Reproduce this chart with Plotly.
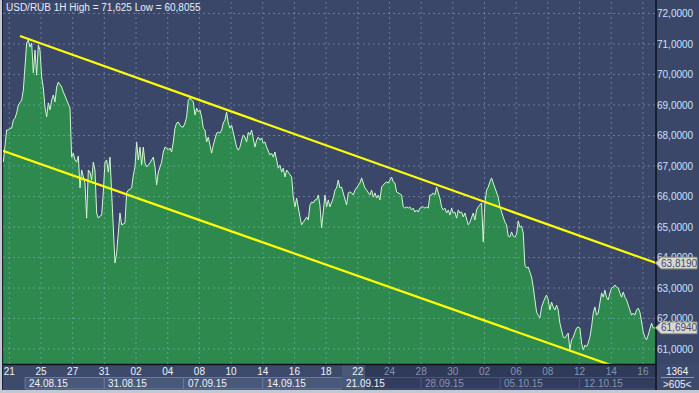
import plotly.graph_objects as go

# ---------------- data ----------------
TITLE = "USD/RUB 1H High = 71,625 Low = 60,8055"

# trading-day index of each day label (0 = 21.08.15)
DAY_POS = [0, 2, 4, 6, 8, 10, 12, 14, 16, 18, 20, 22, 24, 26, 28, 30, 32, 34, 36, 38, 40]
DAY_LABELS = ["21", "25", "27", "31", "02", "04", "08", "10", "14", "16", "18",
              "22", "24", "28", "30", "02", "06", "08", "12", "14", "16"]
WEEK_POS = [1, 6, 11, 16, 21, 26, 31, 36]
WEEK_LABELS = ["24.08.15", "31.08.15", "07.09.15", "14.09.15",
               "21.09.15", "28.09.15", "05.10.15", "12.10.15"]
Y_TICKS = [61, 62, 63, 64, 65, 66, 67, 68, 69, 70, 71, 72]
Y_LABELS = ["61,0000", "62,0000", "63,0000", "64,0000", "65,0000", "66,0000",
            "67,0000", "68,0000", "69,0000", "70,0000", "71,0000", "72,0000"]

# sampling of the price series (in trading days)
T0 = -0.377
DT = 0.1052

PRICE_A = [67.13, 67.75, 68.18, 68.18, 68.24, 68.24, 68.51, 68.57, 68.74, 69.00,
           69.07, 69.16, 69.49, 70.38, 71.03, 71.13, 70.90, 71.03, 70.05, 70.80,
           69.98, 70.97, 70.80, 69.92, 69.56, 68.93, 68.61, 69.07, 68.84, 69.16,
           69.33, 69.10, 69.59, 69.75, 69.66, 69.59, 69.43, 69.30, 69.16, 69.03,
           68.90, 67.29, 67.42, 67.20, 67.13, 67.33, 66.28, 66.87, 66.67, 66.44,
           65.29, 66.87, 66.80, 66.54, 67.13, 66.87, 65.46, 65.29, 65.36, 65.39,
           66.15, 67.13, 67.20, 66.80, 67.29, 65.98, 64.97, 63.82, 64.15, 64.90,
           65.46, 65.07, 65.10, 65.13, 66.12, 66.21, 66.24, 66.28, 66.70, 66.97,
           67.79, 67.20, 67.62, 67.03, 67.62, 67.10, 66.97, 67.03, 67.10, 67.20,
           67.29, 66.97, 66.38, 66.80, 66.97, 67.13, 67.46, 67.62, 67.59, 67.52,
           67.59, 67.46, 67.79, 68.24, 68.41, 68.44, 68.34, 68.28, 68.28, 68.41,
           68.61, 69.16, 69.23, 69.16, 69.10, 68.67, 68.90, 68.77, 68.84]
PRICE_B = [68.61, 68.24, 68.18, 67.79, 67.95, 67.69, 67.42, 67.69, 67.92, 68.08,
           68.11, 68.08, 68.18, 68.41, 68.51, 68.77, 68.41, 68.24, 68.34, 68.08,
           67.85, 67.62, 67.52, 67.62, 67.85, 68.02, 67.95, 67.79, 68.11, 68.02,
           68.18, 67.85, 67.62, 67.85, 67.95, 67.85, 67.92, 67.75, 67.79, 67.62,
           67.46, 67.36, 67.42, 67.29, 67.46, 67.20, 66.93, 67.03, 66.80, 66.93,
           66.64, 66.87, 66.80, 66.70, 66.64, 65.98, 65.66, 65.95, 65.56, 65.33,
           65.07, 65.16, 65.23, 65.33, 65.23, 65.72, 65.82, 65.79, 65.89, 65.89,
           66.05, 65.72, 64.97, 65.56, 66.05, 65.66, 65.89, 65.66, 65.82, 65.95,
           66.21, 66.28, 66.54, 66.28, 66.31, 66.12, 65.98, 65.72, 66.12, 66.15,
           66.12, 66.05, 66.21, 66.28, 66.38, 66.44, 66.61, 66.44, 66.28, 66.21,
           66.12, 66.05, 66.21, 65.98, 66.12, 65.95, 66.05, 65.89]
PRICE_C = [66.31, 66.38, 66.44, 66.48, 66.44, 66.54, 66.64, 66.48, 66.44, 66.15,
           66.12, 66.08, 66.05, 65.66, 65.62, 65.66, 65.62, 65.66, 65.56, 65.62,
           65.49, 65.56, 65.49, 65.62, 65.66, 65.66, 65.62, 65.66, 65.62, 66.05,
           66.05, 66.12, 66.05, 66.31, 66.12, 65.95, 65.66, 65.56, 65.62, 65.46,
           65.56, 65.39, 65.62, 65.46, 65.49, 65.29, 65.56, 65.46, 65.49, 65.33,
           65.46, 65.29, 65.07, 65.16, 65.33, 65.46, 65.23, 65.56, 65.66, 65.72,
           65.79, 64.51, 65.79, 66.21, 66.31, 66.48, 66.61, 66.44, 66.28, 66.12,
           65.98, 65.66]
PRICE_D = [65.49, 65.36, 65.16, 65.07, 64.70, 64.67, 64.84, 64.70, 64.67, 64.77,
           65.20, 65.00, 65.03, 64.80, 63.75, 63.66, 63.69, 63.52, 63.36, 63.03,
           62.61, 62.21, 62.11, 62.02, 62.38, 62.54, 62.67, 62.77, 62.61, 62.28,
           62.54, 62.38, 62.28, 62.44, 62.28, 61.85, 61.56, 61.39, 61.36, 61.46,
           61.52, 60.97, 61.30, 61.39, 61.56, 61.69, 61.72, 61.69, 61.20, 60.97,
           61.13, 61.07, 61.20, 61.39, 61.72, 62.18, 62.38, 62.11, 62.18, 62.51,
           62.84, 62.70, 62.93, 62.70, 62.61, 62.84, 63.00, 63.03, 63.10, 63.03,
           63.00, 62.84, 62.70, 62.87, 62.70, 62.61, 62.44, 62.28, 62.11, 62.18,
           62.11, 62.28, 62.34, 62.21, 61.85, 61.56, 61.39, 61.30, 61.46, 61.62,
           61.85, 61.69, 61.69]
PRICE = PRICE_A + PRICE_B + PRICE_C + PRICE_D
TIME = [T0 + i * DT for i in range(len(PRICE))]

UPPER_T = [0.675, 40.83]
UPPER_P = [71.26, 63.819]
LOWER_T = [-0.40, 38.0]
LOWER_P = [67.50, 60.47]
CHANNEL_TAG = 63.819
LAST_PRICE = 61.694
CHANNEL_TAG_TEXT = "63,8190"
LAST_PRICE_TEXT = "61,6940"
BAR_COUNT = "1364"
VISIBLE_BARS = ">605<"

X_RANGE = [-0.398, 40.827]
Y_RANGE = [60.509, 72.41]

# ---------------- layout helpers ----------------
W, H = 699, 393
ML, MR, MT, MB = 3, 43, 1, 29
PW = W - ML - MR
PH = H - MT - MB


def px_x(p):
    return (p - ML) / PW


def px_y(p):
    return (H - MB - p) / PH


FONT = "Liberation Sans"
WHITE = "#eef2fa"
GRAY = "#8794b0"
BG = "#3a4769"

fig = go.Figure()
fig.add_trace(go.Scatter(x=TIME, y=PRICE, mode="lines", fill="tozeroy",
                         fillcolor="#2d894e", line=dict(color="#d2f7cf", width=1),
                         hoverinfo="skip", showlegend=False))
fig.add_trace(go.Scatter(x=UPPER_T, y=UPPER_P, mode="lines",
                         line=dict(color="#ffff00", width=2.2), showlegend=False))
fig.add_trace(go.Scatter(x=LOWER_T, y=LOWER_P, mode="lines",
                         line=dict(color="#ffff00", width=2.2), showlegend=False))

shapes = []


def prect(x0, y0, x1, y1, fill, line=None, layer="below"):
    shapes.append(dict(type="rect", xref="paper", yref="paper",
                       x0=px_x(x0), x1=px_x(x1), y0=px_y(y1), y1=px_y(y0),
                       fillcolor=fill, line=dict(width=0 if line is None else 1,
                                                 color=line or fill), layer=layer))


# outer dark frame and left edge line
prect(2, 0, 699, 390, BG)
prect(2, 0, 3, 390, "#1c2233")
# bottom axis rows
prect(3, 364, 656, 390, "#3d4a6b")
prect(365, 364, 656, 390, "#2f3958")
for i, k in enumerate(WEEK_POS):
    k1 = WEEK_POS[i + 1] if i + 1 < len(WEEK_POS) else X_RANGE[1]
    light = i < 4
    shapes.append(dict(type="rect", xref="x", yref="paper", x0=k, x1=k1,
                       y0=px_y(389), y1=px_y(377.5),
                       fillcolor="#4b5979" if light else "#323d5d",
                       line=dict(color="#6a78a0" if light else "#48547c", width=1),
                       layer="below"))
prect(342, 365, 365, 389, "#4b5979")
# bottom-right counter box
prect(656, 364, 699, 390, "#3d4a6b")
shapes.append(dict(type="line", xref="paper", yref="paper", x0=px_x(661), x1=px_x(694),
                   y0=px_y(377.5), y1=px_y(377.5), line=dict(color="#8a98b8", width=1)))
# axis lines
shapes.append(dict(type="line", xref="paper", yref="paper", x0=px_x(656), x1=px_x(656),
                   y0=px_y(0), y1=px_y(390), line=dict(color="#0e121c", width=1.5)))
shapes.append(dict(type="line", xref="paper", yref="paper", x0=0, x1=1,
                   y0=px_y(364.5), y1=px_y(364.5), line=dict(color="#0e121c", width=1.5)))

# dashed grid drawn over the area fill
GRID = dict(color="rgba(170,188,225,0.42)", width=1, dash="2px,3px")
for k in DAY_POS:
    shapes.append(dict(type="line", xref="x", yref="paper", x0=k, x1=k, y0=0, y1=1,
                       line=GRID, layer="above"))
for v in Y_TICKS:
    shapes.append(dict(type="line", xref="paper", yref="y", x0=0, x1=1, y0=v, y1=v,
                       line=GRID, layer="above"))

# price tags on the right axis
HALF = 5.8 / 30.5
for v in (CHANNEL_TAG, LAST_PRICE):
    path = (f"M {px_x(655.5)},{v} L {px_x(661)},{v + HALF} L {px_x(697)},{v + HALF} "
            f"L {px_x(697)},{v - HALF} L {px_x(661)},{v - HALF} Z")
    shapes.append(dict(type="path", xref="paper", yref="y", path=path,
                       fillcolor="#d9d9d1", line=dict(color="#9a9a94", width=1),
                       layer="above"))

annotations = [
    dict(text=TITLE, xref="paper", yref="paper", x=px_x(4), y=px_y(7.5),
         xanchor="left", yanchor="middle", showarrow=False,
         font=dict(family=FONT, size=10, color="#e8edf7")),
    dict(text=CHANNEL_TAG_TEXT, xref="paper", yref="y", x=px_x(679.5), y=CHANNEL_TAG,
         xanchor="center", yanchor="middle", showarrow=False,
         font=dict(family=FONT, size=10, color="#3b4a6a")),
    dict(text=LAST_PRICE_TEXT, xref="paper", yref="y", x=px_x(679.5), y=LAST_PRICE,
         xanchor="center", yanchor="middle", showarrow=False,
         font=dict(family=FONT, size=10, color="#3b4a6a")),
    dict(text=BAR_COUNT, xref="paper", yref="paper", x=px_x(677.5), y=px_y(371),
         xanchor="center", yanchor="middle", showarrow=False,
         font=dict(family=FONT, size=10, color=WHITE)),
    dict(text=VISIBLE_BARS, xref="paper", yref="paper", x=px_x(677.5), y=px_y(384),
         xanchor="center", yanchor="middle", showarrow=False,
         font=dict(family=FONT, size=10, color=WHITE)),
]
for i, (k, lab) in enumerate(zip(WEEK_POS, WEEK_LABELS)):
    annotations.append(dict(text=lab, xref="x", yref="paper", x=k, xshift=2,
                            y=px_y(383.5), xanchor="left", yanchor="middle",
                            showarrow=False,
                            font=dict(family=FONT, size=10,
                                      color=WHITE if i <= 4 else GRAY)))

tick_text = [f'<span style="color:{WHITE if k <= 22 else GRAY}">{lab}</span>'
             for k, lab in zip(DAY_POS, DAY_LABELS)]

fig.update_layout(
    width=W, height=H, margin=dict(l=ML, r=MR, t=MT, b=MB, pad=0),
    paper_bgcolor="#c4c8d0", plot_bgcolor=BG,
    shapes=shapes, annotations=annotations, showlegend=False,
    xaxis=dict(range=X_RANGE, tickvals=DAY_POS, ticktext=tick_text,
               tickfont=dict(family=FONT, size=10, color=WHITE),
               showgrid=False, zeroline=False, ticks="", showline=False,
               fixedrange=True),
    yaxis=dict(range=Y_RANGE, side="right", tickvals=Y_TICKS, ticktext=Y_LABELS,
               tickfont=dict(family=FONT, size=10, color="#cfe0ff"),
               showgrid=False, zeroline=False, ticks="", showline=False,
               ticklabelstandoff=0, fixedrange=True),
)

fig.write_html("out.html", config={"displayModeBar": False},
               post_script="document.body.style.margin='0';document.body.style.overflow='hidden';")
